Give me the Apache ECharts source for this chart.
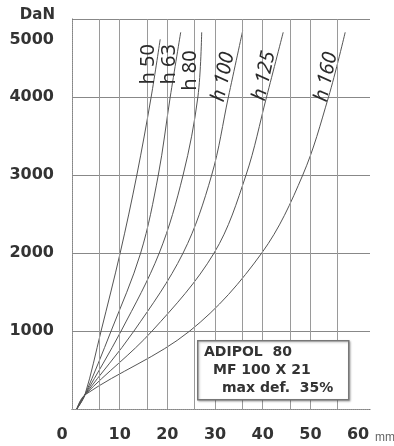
<!DOCTYPE html>
<html>
<head>
<meta charset="utf-8">
<script src="https://cdn.jsdelivr.net/npm/echarts@6/dist/echarts.min.js"></script>
<style>
html,body{margin:0;padding:0;background:#fff;}
#c{width:394px;height:446px;}
</style>
</head>
<body>
<div id="c"></div>
<script>
// ---- data (deflection in mm, force in DaN) ----
const curveNames = ['h 50', 'h 63', 'h 80', 'h 100', 'h 125', 'h 160'];
const forceLevels = [0, 180, 1000, 2000, 3000, 4000];
const defl_h50  = [1.0, 2.7, 6.1, 10.1, 13.6, 16.6];
const defl_h63  = [1.0, 2.7, 8.2, 14.4, 18.1, 20.6];
const defl_h80  = [1.0, 2.7, 10.3, 18.3, 23.3, 26.4];
const defl_h100 = [1.0, 2.7, 13.0, 23.3, 29.3, 32.8];
const defl_h125 = [1.0, 2.7, 16.8, 29.8, 36.5, 40.8];
const defl_h160 = [1.0, 2.7, 24.7, 39.8, 48.4, 53.8];
const endDefl  = [18.5, 22.8, 27.2, 35.8, 44.3, 57.3];
const endForce = [4740, 4830, 4830, 4850, 4830, 4830];
const xTicks = [0, 10, 20, 30, 40, 50, 60];
const yTicks = [1000, 2000, 3000, 4000, 5000];
const vGridLines = [5.7, 10, 15.7, 20, 25.7, 30, 35.7, 40, 45.7, 50, 55.7];
const boxLines = ['ADIPOL  80', 'MF 100 X 21', 'max def.  35%'];

// label anchors (data space) and rotation for the curve names
const labelAnchorX = [16.1, 20.45, 24.8, 31.7, 40.3, 53.3];
const labelAnchorY = [4420, 4420, 4340, 4256, 4270, 4256];
const labelRotate = [90, 90, 90, 78, 78, 78];
const labelItalic = [false, false, false, true, true, true];

const deflArrays = [defl_h50, defl_h63, defl_h80, defl_h100, defl_h125, defl_h160];

const chart = echarts.init(document.getElementById('c'), null, {renderer: 'canvas'});

const series = deflArrays.map((d, i) => {
  const pts = forceLevels.map((f, k) => [d[k], f]);
  pts.push([endDefl[i], endForce[i]]);
  return {
    type: 'line',
    name: curveNames[i],
    data: pts,
    smooth: 0.35,
    symbol: 'none',
    lineStyle: {color: '#555', width: 1},
    z: 3,
    markPoint: {
      symbol: 'circle',
      symbolSize: 0,
      silent: true,
      animation: false,
      data: [{coord: [labelAnchorX[i], labelAnchorY[i]], name: curveNames[i]}],
      label: {
        show: true,
        position: 'inside',
        formatter: curveNames[i],
        rotate: labelRotate[i],
        fontFamily: 'Noto Sans',
        fontSize: 20,
        fontStyle: labelItalic[i] ? 'italic' : 'normal',
        color: '#2a2a2a'
      }
    }
  };
});

// vertical grid lines
series.push({
  type: 'line',
  data: [],
  silent: true,
  z: 1,
  markLine: {
    silent: true,
    animation: false,
    symbol: ['none', 'none'],
    label: {show: false},
    lineStyle: {color: '#9a9a9a', width: 1, type: 'solid'},
    data: vGridLines.map(v => ({xAxis: v}))
  }
});

const boldText = {fontFamily: 'DejaVu Sans', fontWeight: 'bold', fontSize: 16, color: '#333'};

chart.setOption({
  animation: false,
  backgroundColor: '#fff',
  grid: {left: 72, right: 24, top: 19, bottom: 37, containLabel: false, outerBoundsMode: 'none'},
  xAxis: [{
    type: 'value', min: 0, max: 62.5, interval: 10,
    axisLine: {show: true, lineStyle: {color: '#666', width: 1}},
    axisTick: {show: false},
    splitLine: {show: false},
    axisLabel: Object.assign({
      margin: 18,
      customValues: xTicks,
      formatter: v => v === 0 ? '{z|0}' : String(v),
      rich: {z: Object.assign({padding: [0, 20, 0, 0]}, boldText)}
    }, boldText),
    name: 'mm', nameLocation: 'end', nameGap: 2,
    nameTextStyle: {fontFamily: 'Liberation Sans', fontSize: 12, color: '#666', align: 'left', verticalAlign: 'top', padding: [23, 0, 0, 0]}
  }, {
    type: 'value', min: 0, max: 62.5, position: 'top',
    axisLine: {show: true, lineStyle: {color: '#999', type: 'dotted'}},
    axisTick: {show: false}, axisLabel: {show: false}, splitLine: {show: false}
  }],
  yAxis: [{
    type: 'value', min: 0, max: 5000, interval: 1000,
    axisLine: {show: true, lineStyle: {color: '#666', width: 1}},
    axisTick: {show: false},
    splitLine: {show: true, lineStyle: {color: '#888', width: 1}},
    axisLabel: Object.assign({
      margin: 18,
      customValues: yTicks,
      formatter: v => v === 5000 ? '{t|5000}' : String(v),
      rich: {t: Object.assign({padding: [42, 0, 0, 0]}, boldText)}
    }, boldText),
    name: 'DaN', nameLocation: 'end', nameGap: 4,
    nameTextStyle: {fontFamily: 'DejaVu Sans', fontWeight: 'bold', fontSize: 15, color: '#333', align: 'right', verticalAlign: 'middle', padding: [0, 17, 0, 0]}
  }, {
    type: 'value', min: 0, max: 5000, position: 'right',
    axisLine: {show: true, lineStyle: {color: '#999', type: 'dotted'}},
    axisTick: {show: false}, axisLabel: {show: false}, splitLine: {show: false}
  }],
  series: series,
  graphic: {
    elements: [{
      type: 'rect',
      left: 197, top: 340,
      z: 100,
      shape: {x: 0, y: 0, width: 151, height: 59},
      style: {fill: '#fff', stroke: '#777', lineWidth: 1.5, shadowBlur: 2, shadowColor: 'rgba(0,0,0,0.25)', shadowOffsetX: 1, shadowOffsetY: 1}
    }].concat(boxLines.map((t, i) => ({
      type: 'text',
      left: 197 + [7, 16, 25][i],
      top: 345 + i * 18,
      z: 101,
      style: {text: t, fontFamily: 'DejaVu Sans', fontWeight: 'bold', fontSize: 14, fill: '#333'}
    })))
  }
});
</script>
</body>
</html>
